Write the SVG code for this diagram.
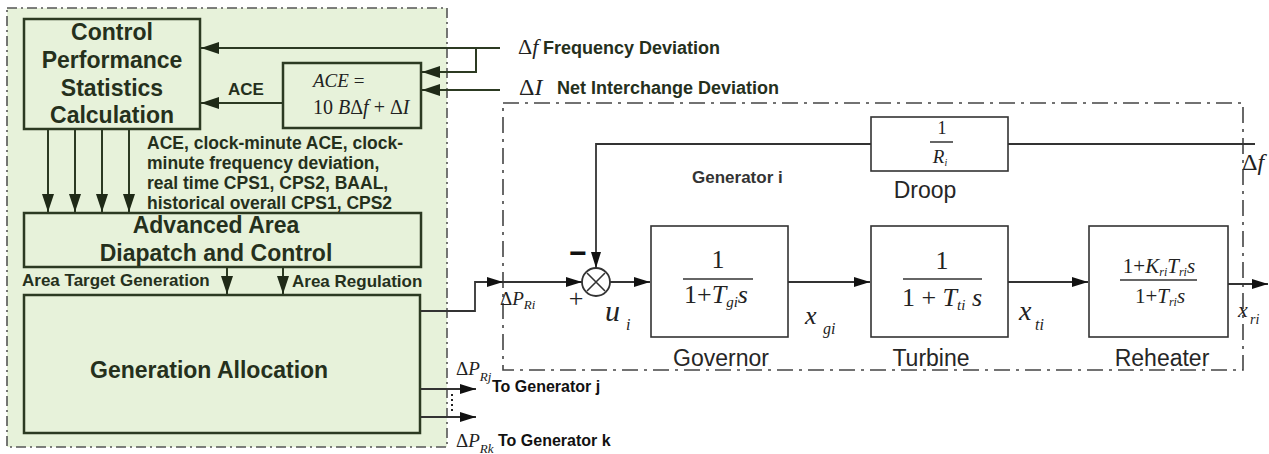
<svg xmlns="http://www.w3.org/2000/svg" width="1269" height="454" viewBox="0 0 1269 454">
<style>
.gbox{fill:none;stroke:#2c3a22;stroke-width:2.5}
.kbox{fill:#fff;stroke:#333;stroke-width:1.6}
.gl{fill:none;stroke:#2c3a22;stroke-width:2}
.kl{fill:none;stroke:#333;stroke-width:1.8}
.b{font-family:"Liberation Sans",Arial,sans-serif;font-weight:bold;fill:#25301c}
.s{font-family:"Liberation Sans",Arial,sans-serif;fill:#262626}
.m{font-family:"Liberation Serif","Times New Roman",serif;fill:#222}
.i{font-style:italic}
.frac{stroke:#333;stroke-width:1.5}
</style>
<defs>
<marker id="ag" viewBox="0 0 18 12" refX="18" refY="6" markerWidth="18" markerHeight="12" orient="auto" markerUnits="userSpaceOnUse"><path d="M0,0 L18,6 L0,12 Z" fill="#1f2a17"/></marker>
<marker id="ak" viewBox="0 0 16 10" refX="16" refY="5" markerWidth="16" markerHeight="10" orient="auto" markerUnits="userSpaceOnUse"><path d="M0,0 L16,5 L0,10 Z" fill="#111"/></marker>
</defs>
<rect x="0" y="0" width="1269" height="454" fill="#fff"/>
<g id="area-control-region">
<rect x="7" y="8" width="440" height="439" fill="#e7f2da" stroke="#555" stroke-width="1.6" stroke-dasharray="10 4 2 4"/>
</g>
<g id="generator-region">
<rect x="503" y="103" width="740" height="267" fill="none" stroke="#444" stroke-width="1.6" stroke-dasharray="16 6 3 6"/>
</g>

<g id="cps">
<rect class="gbox" x="24" y="19" width="176" height="110"/>
<text class="b" font-size="23" text-anchor="middle"><tspan x="112" y="40">Control</tspan><tspan x="112" y="68">Performance</tspan><tspan x="112" y="96">Statistics</tspan><tspan x="112" y="123">Calculation</tspan></text>
</g>
<g id="ace">
<rect class="gbox" x="283" y="63" width="138" height="65"/>
<text class="m" x="313" y="87" font-size="19"><tspan class="i">ACE</tspan> =</text>
<text class="m" x="313" y="114" font-size="20">10<tspan class="i"> B</tspan>Δ<tspan class="i">f</tspan> + Δ<tspan class="i">I</tspan></text>
</g>
<g id="aadc">
<rect class="gbox" x="24" y="213" width="397" height="54"/>
<text class="b" font-size="23" text-anchor="middle"><tspan x="216" y="233">Advanced Area</tspan><tspan x="216" y="261">Diapatch and Control</tspan></text>
</g>
<g id="ga">
<rect class="gbox" x="24" y="295" width="396" height="138"/>
<text class="b" font-size="23" x="90" y="378">Generation Allocation</text>
</g>
<g id="sum">
<circle cx="596" cy="282" r="14" fill="#fff" stroke="#333" stroke-width="1.8"/>
<path d="M587,273 L605,291 M605,273 L587,291" stroke="#333" stroke-width="1.6"/>
</g>
<g id="droop">
<rect class="kbox" x="871" y="117" width="137" height="54"/>
<text class="m" x="942" y="134" font-size="18" text-anchor="middle">1</text>
<line class="frac" x1="930" y1="142" x2="953" y2="142"/>
<text class="m" x="940" y="163" font-size="19" text-anchor="middle"><tspan class="i">R</tspan><tspan class="i" font-size="10" dy="3">i</tspan></text>
</g>
<g id="governor">
<rect class="kbox" x="651" y="226" width="137" height="111"/>
<text class="m" x="718" y="268" font-size="26" text-anchor="middle">1</text>
<line class="frac" x1="683" y1="279" x2="753" y2="279"/>
<text class="m" x="716" y="303" font-size="26" text-anchor="middle">1+<tspan class="i">T</tspan><tspan class="i" font-size="15" dy="4">gi</tspan><tspan class="i" dy="-4">s</tspan></text>
</g>
<g id="turbine">
<rect class="kbox" x="871" y="226" width="137" height="111"/>
<text class="m" x="942" y="269" font-size="26" text-anchor="middle">1</text>
<line class="frac" x1="903" y1="279" x2="982" y2="279"/>
<text class="m" x="942" y="306" font-size="26" text-anchor="middle">1 + <tspan class="i">T</tspan><tspan class="i" font-size="15" dy="4">ti</tspan><tspan class="i" dy="-4"> s</tspan></text>
</g>
<g id="reheater">
<rect class="kbox" x="1089" y="226" width="139" height="111"/>
<text class="m" x="1159" y="273" font-size="21" text-anchor="middle">1+<tspan class="i">K</tspan><tspan class="i" font-size="12" dy="3">ri</tspan><tspan class="i" dy="-3">T</tspan><tspan class="i" font-size="12" dy="3">ri</tspan><tspan class="i" dy="-3">s</tspan></text>
<line class="frac" x1="1120" y1="280" x2="1197" y2="280"/>
<text class="m" x="1160" y="303" font-size="21" text-anchor="middle">1+<tspan class="i">T</tspan><tspan class="i" font-size="12" dy="3">ri</tspan><tspan class="i" dy="-3">s</tspan></text>
</g>

<g id="connectors">
<path class="gl" d="M500,48 H201" marker-end="url(#ag)"/>
<path class="gl" d="M476,48 V72 H422" marker-end="url(#ag)"/>
<path class="gl" d="M500,90 H422" marker-end="url(#ag)"/>
<path class="gl" d="M283,103 H201" marker-end="url(#ag)"/>
<path class="gl" d="M48,129 V212" marker-end="url(#ag)"/>
<path class="gl" d="M75,129 V212" marker-end="url(#ag)"/>
<path class="gl" d="M102,129 V212" marker-end="url(#ag)"/>
<path class="gl" d="M129,129 V212" marker-end="url(#ag)"/>
<path class="gl" d="M227,267 V294" marker-end="url(#ag)"/>
<path class="gl" d="M283,267 V294" marker-end="url(#ag)"/>
<path class="kl" d="M421,311 H475 V282 H503" marker-end="url(#ak)"/>
<path class="kl" d="M503,282 H582" marker-end="url(#ak)"/>
<path class="kl" d="M610,282 H650" marker-end="url(#ak)"/>
<path class="kl" d="M788,282 H870" marker-end="url(#ak)"/>
<path class="kl" d="M1008,282 H1088" marker-end="url(#ak)"/>
<path class="kl" d="M1228,284 H1268" marker-end="url(#ak)"/>
<path class="kl" d="M871,144 H596 V268" marker-end="url(#ak)"/>
<path class="kl" d="M1008,144 H1255"/>
<path class="kl" d="M421,389 H476" marker-end="url(#ak)"/>
<path class="kl" d="M421,417 H476" marker-end="url(#ak)"/>
<path d="M452,394 V412" stroke="#222" stroke-width="2" stroke-dasharray="2 3"/>
</g>

<g id="labels">
<text class="m" x="518" y="54" font-size="22">Δ<tspan class="i">f</tspan></text>
<text class="b" x="543" y="54" font-size="18">Frequency Deviation</text>
<text class="m" x="519" y="95" font-size="24">Δ<tspan class="i">I</tspan></text>
<text class="b" x="557" y="94" font-size="18">Net Interchange Deviation</text>
<text class="b" x="228" y="95" font-size="17">ACE</text>
<text class="b" font-size="17.5"><tspan x="147" y="149">ACE, clock-minute ACE, clock-</tspan><tspan x="147" y="169">minute frequency deviation,</tspan><tspan x="147" y="189">real time CPS1, CPS2, BAAL,</tspan><tspan x="147" y="209">historical overall CPS1, CPS2</tspan></text>
<text class="b" x="22" y="286" font-size="17">Area Target Generation</text>
<text class="b" x="292" y="287" font-size="17">Area Regulation</text>
<text class="b" x="692" y="183" font-size="17" style="fill:#333">Generator i</text>
<text class="s" x="925" y="198" font-size="23" text-anchor="middle">Droop</text>
<text class="s" x="721" y="366" font-size="23" text-anchor="middle">Governor</text>
<text class="s" x="931" y="366" font-size="23" text-anchor="middle">Turbine</text>
<text class="s" x="1162" y="366" font-size="23" text-anchor="middle">Reheater</text>
<text class="m" x="1242" y="170" font-size="24">Δ<tspan class="i">f</tspan></text>
<text class="m" x="500" y="305" font-size="19">Δ<tspan class="i">P</tspan><tspan class="i" font-size="13" dy="4">Ri</tspan></text>
<text class="s" x="578" y="263" font-size="30" font-weight="bold" text-anchor="middle" style="fill:#111">−</text>
<text class="m" x="576" y="307" font-size="26" text-anchor="middle">+</text>
<text class="m i" x="605" y="321" font-size="30">u</text>
<text class="m i" x="626" y="330" font-size="16">i</text>
<text class="m i" x="805" y="324" font-size="26">x</text>
<text class="m i" x="823" y="334" font-size="16">gi</text>
<text class="m i" x="1019" y="320" font-size="28">x</text>
<text class="m i" x="1035" y="330" font-size="16">ti</text>
<text class="m i" x="1238" y="317" font-size="22">x</text>
<text class="m i" x="1250" y="324" font-size="14">ri</text>
<text class="m" x="456" y="375" font-size="19">Δ<tspan class="i">P</tspan><tspan class="i" font-size="13" dy="6">Rj</tspan></text>
<text class="b" x="492" y="392" font-size="16" style="fill:#111">To Generator j</text>
<text class="m" x="456" y="447" font-size="19">Δ<tspan class="i">P</tspan><tspan class="i" font-size="13" dy="6">Rk</tspan></text>
<text class="b" x="498" y="446" font-size="16" style="fill:#111">To Generator k</text>
</g>
</svg>
